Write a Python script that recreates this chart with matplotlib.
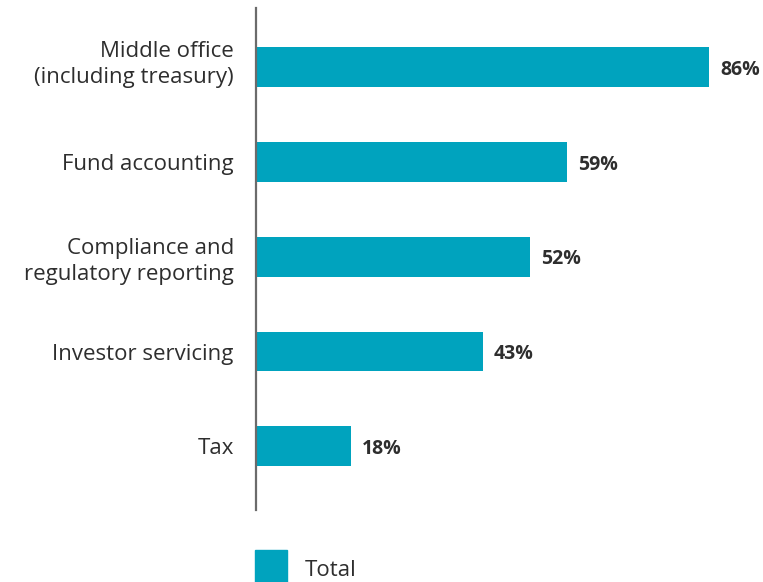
import matplotlib.pyplot as plt
import matplotlib.transforms as mtransforms
from matplotlib.patches import Rectangle

# Data
categories = ["Middle office\n(including treasury)", "Fund accounting",
              "Compliance and\nregulatory reporting", "Investor servicing", "Tax"]
values = [86, 59, 52, 43, 18]
series_name = "Total"

bar_color = "#00a3be"
text_color = "#2e2e2e"

plt.rcParams['font.family'] = ['Open Sans', 'DejaVu Sans']

fig = plt.figure(figsize=(7.63, 5.82), dpi=100)
ax = fig.add_axes([256/763, 1 - 510/582, 1 - 256/763, (510 - 8)/582])

pos = list(range(len(categories)))
ax.barh(pos, values, height=0.42, color=bar_color)

for p, v in zip(pos, values):
    ax.annotate(f"{v}%", (v, p), xytext=(8, -2), textcoords="offset points",
                ha="left", va="center", fontsize=14, fontweight="bold",
                color=text_color)

ax.set_xlim(0, 96.2)
ax.set_ylim(4.67, -0.62)
ax.set_yticks(pos)
ax.set_yticklabels(categories, fontsize=16, color=text_color,
                   linespacing=1.3)
ax.tick_params(axis="y", length=0, pad=16)
ax.set_xticks([])

# first label sits a little higher in the original
lbl = ax.get_yticklabels()[0]
lbl.set_transform(lbl.get_transform() +
                  mtransforms.ScaledTranslation(0, 7/100, fig.dpi_scale_trans))

for s in ["top", "right", "bottom"]:
    ax.spines[s].set_visible(False)
ax.spines["left"].set_color("#6b6b6b")
ax.spines["left"].set_linewidth(1.6)

# legend
fig.patches.append(Rectangle((255/763, 0), 32/763, 32/582,
                             transform=fig.transFigure, color=bar_color))
fig.text(305/763, 12/582, series_name, fontsize=16, color=text_color,
         ha="left", va="center")

fig.savefig("out.png", dpi=100)
